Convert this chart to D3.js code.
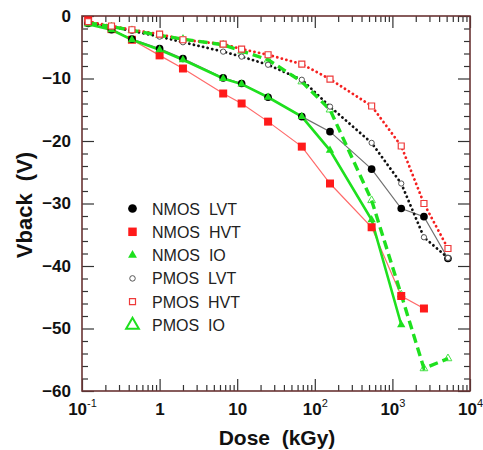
<!DOCTYPE html>
<html>
<head>
<meta charset="utf-8">
<script src="https://cdn.jsdelivr.net/npm/d3@7/dist/d3.min.js"></script>
<style>
  html, body { margin: 0; padding: 0; background: #fff; }
  svg { display: block; font-family: "Liberation Sans", Arial, sans-serif; }
</style>
</head>
<body>
<svg id="chart" width="483" height="450"></svg>
<script>
// Total dose steps (kGy)
const dose = [0.12, 0.24, 0.44, 1, 2, 6.6, 11.4, 25, 68, 157, 540, 1300, 2550, 5200];

// Back-gate voltage shift (V) per device type; null = not measured
const nmosLVT = [-1.2, -2.2, -3.7, -5.2, -6.8, -9.9, -10.8, -13.0, -16.1, -18.5, -24.5, -30.8, -32.1, -38.8];
const nmosHVT = [-0.7, -2.1, -3.8, -6.3, -8.4, -12.4, -14.0, -16.9, -20.9, -26.8, -33.8, -44.8, -46.8, null];
const nmosIO  = [-1.3, -2.2, -3.8, -5.4, -7.0, -10.0, -10.9, -13.0, -16.1, -21.5, -32.6, -49.4, null, null];
const pmosLVT = [-1.0, -1.7, -2.4, -3.3, -4.2, -5.7, -6.5, -7.8, -10.2, -14.5, -20.3, -26.8, -35.4, -38.7];
const pmosHVT = [-0.9, -1.6, -2.2, -2.9, -3.8, -4.5, -5.3, -6.2, -7.7, -10.1, -14.4, -20.8, -30.0, -37.2];
const pmosIO  = [-1.1, -1.7, -2.3, -3.1, -3.7, -4.6, -5.6, -7.0, -10.5, -15.0, -29.5, -44.6, -56.4, -54.8];

const seriesNames = ["NMOS  LVT", "NMOS  HVT", "NMOS  IO", "PMOS  LVT", "PMOS  HVT", "PMOS  IO"];

// Axis ticks and labels
const xMajorTicks = [0.1, 1, 10, 100, 1000, 10000];
const xTickLabels = ["10^-1", "1", "10", "10^2", "10^3", "10^4"];
const yMajorTicks = [0, -10, -20, -30, -40, -50, -60];
const yMinorStep = 2;

const xTitle = "Dose  (kGy)";
const yTitle = "Vback  (V)";

const GREEN = "#1ee01e";
const RED = "#ff1a1a";

const svg = d3.select("#chart");
const L = 82, R = 470, T = 16, B = 391;

const x = d3.scaleLog().domain([0.1, 10000]).range([L, R]);
const y = d3.scaleLinear().domain([-60, 0]).range([B, T]);

// minor ticks: 2..9 in each decade
const xMinorTicks = [];
for (let d = -1; d < 4; d++) for (let k = 2; k <= 9; k++) xMinorTicks.push(k * Math.pow(10, d));
const yMinorTicks = d3.range(-60, 0.001, yMinorStep).filter(v => v % 10 !== 0);

const frameColor = "#6a3434";
const tickColor = "#333";

function styleAxis(g) {
  g.select(".domain").remove();
  g.selectAll(".tick line").attr("stroke", tickColor).attr("stroke-width", 1.2);
}

// inward ticks on all four sides
const axes = [
  {gen: d3.axisBottom(x), tr: `translate(0,${B})`, maj: xMajorTicks, min: xMinorTicks},
  {gen: d3.axisTop(x), tr: `translate(0,${T})`, maj: xMajorTicks, min: xMinorTicks},
  {gen: d3.axisLeft(y), tr: `translate(${L},0)`, maj: yMajorTicks, min: yMinorTicks},
  {gen: d3.axisRight(y), tr: `translate(${R},0)`, maj: yMajorTicks, min: yMinorTicks}
];
axes.forEach(a => {
  svg.append("g").attr("transform", a.tr)
    .call(a.gen.tickValues(a.min).tickSize(-6).tickFormat(""))
    .call(styleAxis);
  svg.append("g").attr("transform", a.tr)
    .call(a.gen.tickValues(a.maj).tickSize(-12).tickFormat(""))
    .call(styleAxis);
});

// frame
svg.append("rect").attr("x", L).attr("y", T).attr("width", R - L).attr("height", B - T)
  .attr("fill", "none").attr("stroke", frameColor).attr("stroke-width", 1.6);

// x tick labels with superscript exponents
const xLab = svg.append("g")
  .attr("transform", `translate(0,${B})`)
  .call(d3.axisBottom(x).tickValues(xMajorTicks).tickSize(0).tickFormat(""));
xLab.select(".domain").remove();
xLab.selectAll(".tick").each(function(d, i) {
  const parts = xTickLabels[i].split("^");
  const t = d3.select(this).append("text")
    .attr("y", 24).attr("text-anchor", "middle")
    .attr("fill", "#111").attr("font-size", 17).attr("font-weight", "bold");
  t.append("tspan").text(parts[0]);
  if (parts[1]) t.append("tspan").attr("dy", -8).attr("font-size", 11).attr("font-weight", "normal").text(parts[1]);
});

// y tick labels
const yLab = svg.append("g")
  .attr("transform", `translate(${L},0)`)
  .call(d3.axisLeft(y).tickValues(yMajorTicks).tickSize(0).tickPadding(11).tickFormat(d3.format("d")));
yLab.select(".domain").remove();
yLab.selectAll(".tick text").attr("fill", "#111").attr("font-size", 17).attr("font-weight", "bold")
  .attr("font-family", "'Liberation Sans', Arial, sans-serif");

// axis titles
svg.append("text").attr("x", 277).attr("y", 445).attr("text-anchor", "middle")
  .attr("font-size", 21).attr("font-weight", "bold").attr("fill", "#111").attr("xml:space", "preserve").text(xTitle);
svg.append("text").attr("transform", "translate(32,205) rotate(-90)").attr("text-anchor", "middle")
  .attr("font-size", 22).attr("font-weight", "bold").attr("fill", "#111").attr("xml:space", "preserve").text(yTitle);

// series definitions (drawing order: back to front)
const DOT = "0.1,4.6";
const series = [
  {name: seriesNames[1], vals: nmosHVT, line: {stroke: "#ff6a6a", w: 1.2}, sym: d3.symbolSquare, size: 64, fill: RED, mstroke: "none", lsize: 72},
  {name: seriesNames[0], vals: nmosLVT, line: {stroke: "#707070", w: 1.2}, sym: d3.symbolCircle, size: 46, fill: "#000", mstroke: "none", lsize: 60},
  {name: seriesNames[2], vals: nmosIO, line: {stroke: GREEN, w: 2.6}, sym: d3.symbolTriangle, size: 30, fill: GREEN, mstroke: "none", lsize: 34},
  {name: seriesNames[3], vals: pmosLVT, line: {stroke: "#111", w: 2.8, dash: DOT, cap: "round"}, sym: d3.symbolCircle, size: 22, fill: "#fff", mstroke: "#555", mw: 1, lsize: 24},
  {name: seriesNames[4], vals: pmosHVT, line: {stroke: "#f52020", w: 2.8, dash: DOT, cap: "round"}, sym: d3.symbolSquare, size: 36, fill: "#fff", mstroke: "#ee3a3a", mw: 1.2, lsize: 36},
  {name: seriesNames[5], vals: pmosIO, line: {stroke: GREEN, w: 3.4, dash: "9,5"}, sym: d3.symbolTriangle, size: 26, fill: "#fff", mstroke: "#4be04b", mw: 1, lsize: 70, lw: 2, lfill: "none", under: true}
];

const lineGen = d3.line().defined(d => d[1] !== null).x(d => x(d[0])).y(d => y(d[1]));

const plot = svg.append("g");
function drawMarkers(s) {
  const pts = dose.map((d, i) => [d, s.vals[i]]).filter(p => p[1] !== null);
  plot.selectAll(null).data(pts).enter().append("path")
    .attr("transform", p => `translate(${x(p[0])},${y(p[1])})`)
    .attr("d", d3.symbol(s.sym, s.size))
    .attr("fill", s.fill).attr("stroke", s.mstroke).attr("stroke-width", s.mw || 0);
}
function drawLine(s) {
  const pts = dose.map((d, i) => [d, s.vals[i]]);
  plot.append("path").datum(pts)
    .attr("d", lineGen).attr("fill", "none")
    .attr("stroke", s.line.stroke).attr("stroke-width", s.line.w)
    .attr("stroke-dasharray", s.line.dash || null)
    .attr("stroke-linecap", s.line.cap || "butt");
}
series.forEach(s => { if (s.under) drawMarkers(s); });
series.forEach(drawLine);
series.forEach(s => { if (!s.under) drawMarkers(s); });

// legend
const legendOrder = [1, 0, 2, 3, 4, 5];
const legend = svg.append("g");
legendOrder.forEach((idx, row) => {
  const s = series[idx];
  const cy = 208.5 + row * 23.3;
  legend.append("path")
    .attr("transform", `translate(132.5,${cy})`)
    .attr("d", d3.symbol(s.sym, s.lsize))
    .attr("fill", s.lfill || s.fill).attr("stroke", s.lfill ? GREEN : s.mstroke).attr("stroke-width", s.lw || s.mw || 0);
  legend.append("text").attr("x", 152).attr("y", cy + 6)
    .attr("font-size", 16).attr("fill", "#222").attr("xml:space", "preserve").text(s.name);
});
</script>
</body>
</html>
